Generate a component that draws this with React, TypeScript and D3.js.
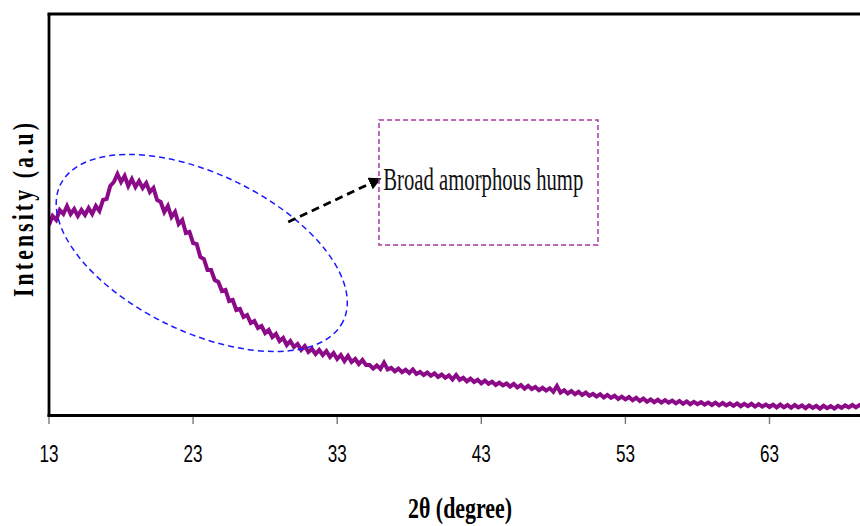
import React from "react";
import * as d3 from "d3";

const twoTheta: number[] = [
  13, 13.25, 13.5, 13.75, 14, 14.25, 14.5, 14.75, 15, 15.25, 15.5, 15.75, 16, 16.25, 16.5, 16.75,
  17, 17.25, 17.5, 17.75, 18, 18.25, 18.5, 18.75, 19, 19.25, 19.5, 19.75, 20, 20.25, 20.5, 20.75,
  21, 21.25, 21.5, 21.75, 22, 22.25, 22.5, 22.75, 23, 23.25, 23.5, 23.75, 24, 24.25, 24.5, 24.75,
  25, 25.25, 25.5, 25.75, 26, 26.25, 26.5, 26.75, 27, 27.25, 27.5, 27.75, 28, 28.25, 28.5, 28.75,
  29, 29.25, 29.5, 29.75, 30, 30.25, 30.5, 30.75, 31, 31.25, 31.5, 31.75, 32, 32.25, 32.5, 32.75,
  33, 33.25, 33.5, 33.75, 34, 34.25, 34.5, 34.75, 35, 35.25, 35.5, 35.75,
  36, 36.25, 36.5, 36.75, 37, 37.25, 37.5, 37.75, 38, 38.25, 38.5, 38.75, 39, 39.25, 39.5, 39.75,
  40, 40.25, 40.5, 40.75, 41, 41.25, 41.5, 41.75, 42, 42.25, 42.5, 42.75, 43, 43.25, 43.5, 43.75,
  44, 44.25, 44.5, 44.75, 45, 45.25, 45.5, 45.75, 46, 46.25, 46.5, 46.75, 47, 47.25, 47.5, 47.75,
  48, 48.25, 48.5, 48.75, 49, 49.25, 49.5, 49.75, 50, 50.25, 50.5, 50.75, 51, 51.25, 51.5, 51.75,
  52, 52.25, 52.5, 52.75, 53, 53.25, 53.5, 53.75, 54, 54.25, 54.5, 54.75, 55, 55.25, 55.5, 55.75,
  56, 56.25, 56.5, 56.75, 57, 57.25, 57.5, 57.75, 58, 58.25, 58.5, 58.75, 59, 59.25, 59.5, 59.75,
  60, 60.25, 60.5, 60.75, 61, 61.25, 61.5, 61.75, 62, 62.25, 62.5, 62.75, 63, 63.25, 63.5, 63.75,
  64, 64.25, 64.5, 64.75, 65, 65.25, 65.5, 65.75, 66, 66.25, 66.5, 66.75, 67, 67.25, 67.5, 67.75,
  68, 68.25, 68.5, 68.75, 69, 69.25, 69.5, 69.75, 70,
];

const intensity: number[] = [
  950, 995, 975, 1025, 1005, 1045, 1005, 1030, 995, 1025, 1000, 1035, 1005, 1045, 1020, 1075,
  1080, 1145, 1165, 1205, 1165, 1195, 1145, 1180, 1140, 1170, 1135, 1160, 1115, 1135, 1075, 1065,
  1015, 1045, 990, 1015, 955, 975, 910, 915, 860, 855, 790, 780, 725, 725, 675, 665,
  620, 625, 570, 575, 525, 530, 490, 500, 460, 470, 435, 445, 410, 425, 390, 405,
  370, 385, 350, 370, 340, 355, 325, 345, 315, 330, 305, 325, 300, 320, 290, 310,
  280, 300, 270, 295, 265, 280, 255, 275, 250, 250, 232, 248,
  230, 262, 228, 236, 218, 232, 214, 226, 210, 228, 205, 215, 200, 212, 196, 208,
  190, 202, 186, 198, 178, 200, 176, 186, 168, 182, 165, 176, 158, 172, 156, 166,
  150, 162, 148, 158, 142, 156, 138, 150, 132, 146, 130, 140, 124, 136, 122, 134,
  116, 145, 112, 124, 108, 120, 104, 116, 100, 112, 96, 106, 92, 104, 88, 100,
  86, 96, 80, 92, 78, 90, 74, 86, 70, 82, 66, 78, 64, 76, 62, 74,
  62, 72, 58, 70, 56, 68, 54, 66, 54, 64, 52, 62, 50, 62, 48, 60,
  48, 58, 46, 58, 44, 56, 44, 56, 42, 54, 42, 52, 40, 52, 38, 52,
  38, 50, 36, 50, 38, 48, 34, 48, 36, 46, 32, 46, 34, 44, 32, 46,
  36, 48, 38, 50, 38, 50, 40, 50, 40,
];

const xTicks: number[] = [13, 23, 33, 43, 53, 63];
const xTitle = "2\u03b8 (degree)";
const yTitle = "Intensity (a.u)";
const annotationText = "Broad amorphous hump";

export default function App() {
  const W = 860;
  const H = 526;
  const left = 49;
  const top = 14;
  const bottom = 415;
  const x = d3.scaleLinear().domain([13, 70]).range([left, left + 57 * 14.41]);
  const y = d3.scaleLinear().domain([0, 2005]).range([bottom, top]);

  const pts: [number, number][] = twoTheta.map((t, i) => [t, intensity[i]]);
  const line = d3
    .line<[number, number]>()
    .x((d) => x(d[0]))
    .y((d) => y(d[1]));

  // annotation anchors in data units
  const ell = { t: 23.6, i: 810 };
  const box = { t0: 35.9, t1: 51.1, i0: 1475, i1: 850 };
  const arrow = { t0: 29.6, i0: 965, t1: 35.6, i1: 1168 };
  const txt = { t: 36.2, i: 1125 };

  const ex = x(ell.t);
  const ey = y(ell.i);

  return (
    <svg
      width={W}
      height={H}
      style={{ position: "absolute", left: 0, top: 0, background: "#fff" }}
    >
      <defs>
        <clipPath id="plotclip">
          <rect x={left} y={top} width={W - left} height={bottom - top} />
        </clipPath>
        <marker
          id="arrowhead"
          viewBox="0 0 10 10"
          refX="4"
          refY="5"
          markerWidth="4.5"
          markerHeight="4.5"
          orient="auto"
          markerUnits="strokeWidth"
        >
          <path d="M0,0 L10,5 L0,10 z" fill="#000" />
        </marker>
      </defs>
      <rect x={0} y={0} width={W} height={H} fill="#fff" />

      {/* data */}
      <g clipPath="url(#plotclip)">
        <path
          d={line(pts) || ""}
          fill="none"
          stroke="#8B0A87"
          strokeWidth={4}
          strokeLinejoin="miter"
        />
      </g>

      {/* frame */}
      <line x1={left - 1.5} x2={W} y1={top} y2={top} stroke="#000" strokeWidth={2.8} />
      <line x1={left} x2={left} y1={top} y2={bottom + 1.5} stroke="#000" strokeWidth={2.8} />
      <line x1={left - 1.5} x2={W} y1={bottom + 0.5} y2={bottom + 0.5} stroke="#000" strokeWidth={3} />

      {/* ticks */}
      {xTicks.map((t) => (
        <g key={t}>
          <line
            x1={x(t)}
            x2={x(t)}
            y1={bottom + 2}
            y2={bottom + 9}
            stroke="#777"
            strokeWidth={1.4}
          />
          <text
            x={x(t)}
            y={462}
            textAnchor="middle"
            fontFamily="'Liberation Sans', Arial, sans-serif"
            fontSize={24}
            textLength={19}
            lengthAdjust="spacingAndGlyphs"
            fill="#000"
          >
            {t}
          </text>
        </g>
      ))}

      {/* axis titles */}
      <text
        x={460}
        y={518}
        textAnchor="middle"
        fontFamily="'Liberation Serif', 'Times New Roman', serif"
        fontWeight="bold"
        fontSize={29}
        textLength={104}
        lengthAdjust="spacingAndGlyphs"
        fill="#000"
      >
        {xTitle}
      </text>
      <text
        transform="translate(33,210) rotate(-90) scale(0.75,1)"
        textAnchor="middle"
        fontFamily="'Liberation Serif', 'Times New Roman', serif"
        fontWeight="bold"
        fontSize={29}
        textLength={232}
        lengthAdjust="spacing"
        fill="#000"
      >
        {yTitle}
      </text>

      {/* ellipse annotation */}
      <ellipse
        cx={ex}
        cy={ey}
        rx={157}
        ry={79}
        transform={`rotate(25.7 ${ex} ${ey})`}
        fill="none"
        stroke="#1a1aff"
        strokeWidth={1.5}
        strokeDasharray="6 4"
      />

      {/* arrow */}
      <line
        x1={x(arrow.t0)}
        y1={y(arrow.i0)}
        x2={x(arrow.t1)}
        y2={y(arrow.i1)}
        stroke="#000"
        strokeWidth={2.8}
        strokeDasharray="8 5"
        markerEnd="url(#arrowhead)"
      />

      {/* box */}
      <rect
        x={x(box.t0)}
        y={y(box.i0)}
        width={x(box.t1) - x(box.t0)}
        height={y(box.i1) - y(box.i0)}
        fill="none"
        stroke="#A8399F"
        strokeWidth={1.5}
        strokeDasharray="5 3"
      />
      <text
        x={x(txt.t)}
        y={y(txt.i)}
        fontFamily="'Liberation Serif', 'Times New Roman', serif"
        fontSize={32}
        textLength={200}
        lengthAdjust="spacingAndGlyphs"
        fill="#111"
      >
        {annotationText}
      </text>
    </svg>
  );
}
